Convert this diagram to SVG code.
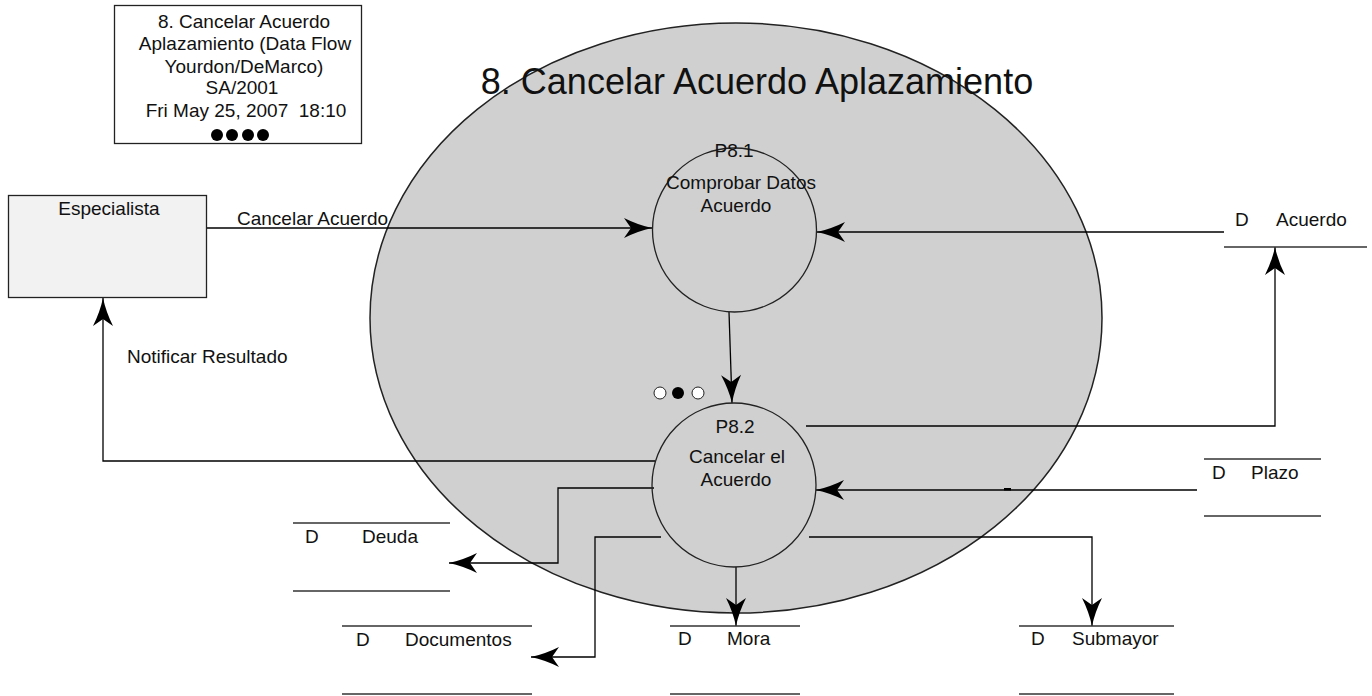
<svg xmlns="http://www.w3.org/2000/svg" width="1372" height="696" viewBox="0 0 1372 696">
  <style>
    text { font-family: "Liberation Sans", Arial, sans-serif; fill: #111; }
    .lbl { font-size: 19px; }
    .mid { text-anchor: middle; }
    .title { font-size: 36px; text-anchor: middle; }
    .flow { fill: none; stroke: #000; stroke-width: 1.3; marker-end: url(#arrow); }
    .store { stroke: #333; stroke-width: 1.6; }
    .proc { fill: none; stroke: #222; stroke-width: 1.3; }
  </style>
  <defs>
    <marker id="arrow" markerUnits="userSpaceOnUse" markerWidth="32" markerHeight="24" viewBox="-30 -12 32 24" refX="0" refY="0" orient="auto">
      <path d="M0,0 Q-14,-3 -28,-10 L-21,0 L-28,10 Q-14,3 0,0 Z" fill="#000"/>
    </marker>
  </defs>

  <rect width="1372" height="696" fill="#fff"/>

  <!-- context boundary -->
  <g id="boundary">
    <ellipse cx="736" cy="318" rx="366" ry="295" fill="#d0d0d0" stroke="#222" stroke-width="1.5"/>
    <text class="title" x="757" y="94">8. Cancelar Acuerdo Aplazamiento</text>
  </g>

  <!-- legend -->
  <g id="legend">
    <rect x="114.5" y="5.5" width="247" height="138" fill="#fff" stroke="#222" stroke-width="1.3"/>
    <text class="lbl mid" x="244" y="28">8. Cancelar Acuerdo</text>
    <text class="lbl mid" x="245" y="50">Aplazamiento (Data Flow</text>
    <text class="lbl mid" x="244" y="73">Yourdon/DeMarco)</text>
    <text class="lbl mid" x="242" y="94">SA/2001</text>
    <text class="lbl mid" x="246" y="117" xml:space="preserve">Fri May 25, 2007  18:10</text>
    <circle cx="217" cy="135" r="6" fill="#000"/>
    <circle cx="232" cy="135" r="6" fill="#000"/>
    <circle cx="248" cy="135" r="6" fill="#000"/>
    <circle cx="263" cy="135" r="6" fill="#000"/>
  </g>

  <!-- connectors -->
  <g id="connectors">
    <path class="flow" d="M207,228 L652,228"/>
    <path class="flow" d="M1224,232 L817,232"/>
    <path class="flow" d="M729,312 L732,403"/>
    <path class="flow" d="M806,426 L1275,426 L1275,247"/>
    <path class="flow" d="M655,461 L103,461 L103,298"/>
    <path class="flow" d="M1197,490 L816,490"/>
    <rect x="1004" y="488" width="7" height="2.5" fill="#000"/>
    <path class="flow" d="M654,488 L558,488 L558,563 L449,563"/>
    <path class="flow" d="M661,537 L595,537 L595,657 L531,657"/>
    <path class="flow" d="M736,567 L736,626"/>
    <path class="flow" d="M809,537 L1092,537 L1092,626"/>
    <text class="lbl" x="237" y="225">Cancelar Acuerdo</text>
    <text class="lbl" x="127" y="363">Notificar Resultado</text>
  </g>

  <!-- external entity -->
  <g id="especialista">
    <rect x="8.5" y="195.5" width="198" height="102" fill="#f2f2f2" stroke="#222" stroke-width="1.3"/>
    <text class="lbl mid" x="109" y="215">Especialista</text>
  </g>

  <!-- processes -->
  <g id="p8-1">
    <circle class="proc" cx="734.5" cy="230" r="82"/>
    <text class="lbl mid" x="734" y="157">P8.1</text>
    <text class="lbl mid" x="741" y="189">Comprobar Datos</text>
    <text class="lbl mid" x="736" y="212">Acuerdo</text>
  </g>

  <g id="p8-2">
    <circle class="proc" cx="734" cy="485" r="82"/>
    <circle cx="660" cy="393" r="6" fill="#fff" stroke="#222" stroke-width="1"/>
    <circle cx="678" cy="393" r="6" fill="#000"/>
    <circle cx="698" cy="393" r="6" fill="#fff" stroke="#222" stroke-width="1"/>
    <text class="lbl mid" x="735" y="433">P8.2</text>
    <text class="lbl mid" x="737" y="463">Cancelar el</text>
    <text class="lbl mid" x="736" y="486">Acuerdo</text>
  </g>

  <!-- data stores -->
  <g id="store-acuerdo">
    <line class="store" x1="1224" y1="247" x2="1367" y2="247"/>
    <text class="lbl" x="1235" y="226">D</text>
    <text class="lbl" x="1276" y="226">Acuerdo</text>
  </g>

  <g id="store-plazo">
    <line class="store" x1="1204" y1="459" x2="1321" y2="459"/>
    <line class="store" x1="1204" y1="516" x2="1321" y2="516"/>
    <text class="lbl" x="1212" y="479">D</text>
    <text class="lbl" x="1251" y="479">Plazo</text>
  </g>

  <g id="store-deuda">
    <line class="store" x1="293" y1="523" x2="450" y2="523"/>
    <line class="store" x1="293" y1="591" x2="450" y2="591"/>
    <text class="lbl" x="305" y="543">D</text>
    <text class="lbl" x="362" y="543">Deuda</text>
  </g>

  <g id="store-documentos">
    <line class="store" x1="342" y1="626" x2="532" y2="626"/>
    <line class="store" x1="342" y1="694" x2="532" y2="694"/>
    <text class="lbl" x="356" y="646">D</text>
    <text class="lbl" x="405" y="646">Documentos</text>
  </g>

  <g id="store-mora">
    <line class="store" x1="670" y1="626" x2="800" y2="626"/>
    <line class="store" x1="670" y1="694" x2="800" y2="694"/>
    <text class="lbl" x="678" y="645">D</text>
    <text class="lbl" x="727" y="645">Mora</text>
  </g>

  <g id="store-submayor">
    <line class="store" x1="1019" y1="626" x2="1174" y2="626"/>
    <line class="store" x1="1019" y1="694" x2="1174" y2="694"/>
    <text class="lbl" x="1031" y="645">D</text>
    <text class="lbl" x="1072" y="645">Submayor</text>
  </g>
</svg>
